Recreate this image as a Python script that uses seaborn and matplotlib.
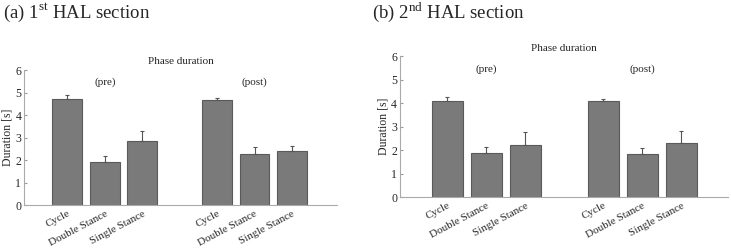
import matplotlib
matplotlib.use("Agg")
import matplotlib.pyplot as plt
import pandas as pd
import seaborn as sns

# values
phases = ["Cycle", "Double Stance", "Single Stance"]
positions = [1, 2, 3, 5, 6, 7]
session1_mean = [4.73, 1.92, 2.85, 4.65, 2.27, 2.39]
session1_err = [0.18, 0.27, 0.42, 0.09, 0.33, 0.24]
session2_mean = [4.07, 1.87, 2.23, 4.10, 1.84, 2.31]
session2_err = [0.17, 0.27, 0.55, 0.09, 0.26, 0.52]
panel_titles = ["(a) 1$^{\\rm st}$ HAL section", "(b) 2$^{\\rm nd}$ HAL section"]
group_labels = ["(pre)", "(post)"]

sns.set_style("white")
plt.rcParams["font.family"] = ["Liberation Serif", "DejaVu Serif"]
plt.rcParams["mathtext.fontset"] = "custom"
plt.rcParams["mathtext.rm"] = "Liberation Serif"

fig = plt.figure(figsize=(7.31, 2.49), dpi=100)
ax1 = fig.add_axes([0.0328, 0.1767, 0.428, 0.542])
ax2 = fig.add_axes([0.547, 0.2088, 0.449, 0.566])

panels = [(ax1, session1_mean, session1_err, -0.16, 0.004),
          (ax2, session2_mean, session2_err, -0.22, 0.509)]

for (ax, means, errs, xleft, tx), title in zip(panels, panel_titles):
    df = pd.DataFrame({"pos": positions, "mean": means, "err": errs})
    sns.barplot(data=df, x="pos", y="mean", native_scale=True, errorbar=None,
                color="#7a7a7a", saturation=1, edgecolor="#5a5a5a",
                linewidth=0.8, ax=ax)
    ax.errorbar(df["pos"], df["mean"], yerr=[[0] * len(df), df["err"]],
                fmt="none", ecolor="#555555", elinewidth=0.8, capsize=1.5,
                capthick=0.8)
    ax.set_xlim(xleft, 8.2)
    ax.set_ylim(0, 6)
    ax.set_yticks(range(7))
    ax.set_xticks(positions)
    ax.set_xticklabels(phases * 2, rotation=28, ha="right",
                       rotation_mode="anchor", fontsize=8)
    ax.tick_params(axis="y", labelsize=8.5, direction="in", length=2,
                   color="#999999", pad=2, left=True)
    ax.tick_params(axis="x", direction="in", length=2, color="#999999",
                   pad=3, bottom=True)
    ax.set_xlabel("")
    ax.set_ylabel("Duration [s]", fontsize=8.5, labelpad=1)
    for side in ["top", "right"]:
        ax.spines[side].set_visible(False)
    for side in ["left", "bottom"]:
        ax.spines[side].set_color("#aaaaaa")
        ax.spines[side].set_linewidth(0.8)
    ax.set_title("Phase duration", fontsize=8, pad=4)
    ax.text(2, 5.45, group_labels[0], ha="center", va="center", fontsize=8)
    ax.text(6, 5.45, group_labels[1], ha="center", va="center", fontsize=8)
    fig.text(tx, 0.95, title, fontsize=13.5, ha="left", va="center")

fig.savefig("out.png", dpi=100)
